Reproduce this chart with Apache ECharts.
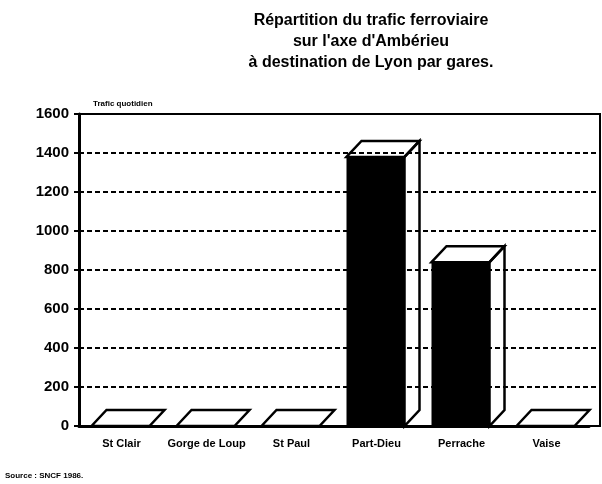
<!DOCTYPE html>
<html>
<head>
<meta charset="utf-8">
<script src="https://cdn.jsdelivr.net/npm/echarts@6/dist/echarts.min.js"></script>
<style>
	html, body { margin: 0; padding: 0; background: #fff; }
	#chart { width: 602px; height: 484px; }
</style>
</head>
<body>
<div id="chart"></div>
<script>
var gares = ['St Clair', 'Gorge de Loup', 'St Paul', 'Part-Dieu', 'Perrache', 'Vaise'];
var trafic = [0, 0, 0, 1380, 840, 0];
var yTicks = [0, 200, 400, 600, 800, 1000, 1200, 1400, 1600];

var font = 'Liberation Sans';
var myChart = echarts.init(document.getElementById('chart'));

// barre en pseudo 3D : face avant noire, dessus et cote en contour
function renderBar(params, api) {
	var top = api.coord([api.value(0), api.value(1)]);
	var base = api.coord([api.value(0), 0]);
	var x0 = top[0] - 30, x1 = top[0] + 28;
	var yt = top[1], yb = base[1];
	var dx = 15, dy = 16;
	var line = { stroke: '#000', lineWidth: 2.5, fill: null };
	var children = [];
	if (yb - yt > 0) {
		children.push({ type: 'rect', shape: { x: x0, y: yt, width: x1 - x0, height: yb - yt }, style: { fill: '#000' } });
		children.push({ type: 'polygon', shape: { points: [[x1, yt], [x1 + dx, yt - dy], [x1 + dx, yb - dy], [x1, yb]] }, style: line });
	}
	children.push({ type: 'polygon', shape: { points: [[x0, yt], [x0 + dx, yt - dy], [x1 + dx, yt - dy], [x1, yt]] }, style: line });
	return { type: 'group', children: children };
}

myChart.setOption({
	backgroundColor: '#fff',
	animation: false,
	graphic: [
		{
			type: 'text', x: 371, y: 10,
			style: {
				text: 'Répartition du trafic ferroviaire\nsur l\'axe d\'Ambérieu\nà destination de Lyon par gares.',
				align: 'center', verticalAlign: 'top', font: '900 16px "' + font + '"', lineHeight: 21, fill: '#000'
			}
		},
		{
			type: 'text', left: 5, top: 472,
			style: { text: 'Source : SNCF 1986.', font: '900 8px "' + font + '"', fill: '#000' }
		}
	],
	grid: [
		{ left: 79, top: 114, width: 510, height: 312 },
		{ left: 79, top: 114, right: 2, height: 312, show: true, borderColor: '#000', borderWidth: 2, backgroundColor: 'transparent' }
	],
	xAxis: [
		{
			type: 'category', gridIndex: 0, data: gares,
			axisLine: { lineStyle: { color: '#000', width: 3 } },
			axisTick: { alignWithLabel: true, length: 6, lineStyle: { color: '#000', width: 2 } },
			axisLabel: { interval: 0, hideOverlap: false, color: '#000', fontFamily: font, fontWeight: 900, fontSize: 11, margin: 12 }
		},
		{ type: 'value', gridIndex: 1, show: false, min: 0, max: 1, splitLine: { show: false } }
	],
	yAxis: [
		{
			type: 'value', gridIndex: 0, min: yTicks[0], max: yTicks[yTicks.length - 1], interval: 200,
			name: 'Trafic quotidien', nameLocation: 'end', nameGap: 6,
			nameTextStyle: { color: '#000', fontFamily: font, fontWeight: 900, fontSize: 8, align: 'left', padding: [0, 0, 0, 14] },
			axisLine: { show: true, lineStyle: { color: '#000', width: 3 } },
			axisTick: { show: true, inside: false, length: 5, lineStyle: { color: '#000', width: 2 } },
			axisLabel: { color: '#000', fontFamily: font, fontWeight: 900, fontSize: 15, margin: 10, formatter: function (v) { return String(v); } },
			splitLine: { show: false }
		},
		{
			type: 'value', gridIndex: 1, min: yTicks[0], max: yTicks[yTicks.length - 1], interval: 200,
			axisLine: { show: false }, axisTick: { show: false }, axisLabel: { show: false },
			splitLine: { show: true, lineStyle: { color: '#000', width: 2, type: [5, 3] } }
		}
	],
	series: [
		{
			type: 'custom',
			xAxisIndex: 0, yAxisIndex: 0,
			renderItem: renderBar,
			data: gares.map(function (g, i) { return [i, trafic[i]]; }),
			z: 5
		}
	]
});
</script>
</body>
</html>
